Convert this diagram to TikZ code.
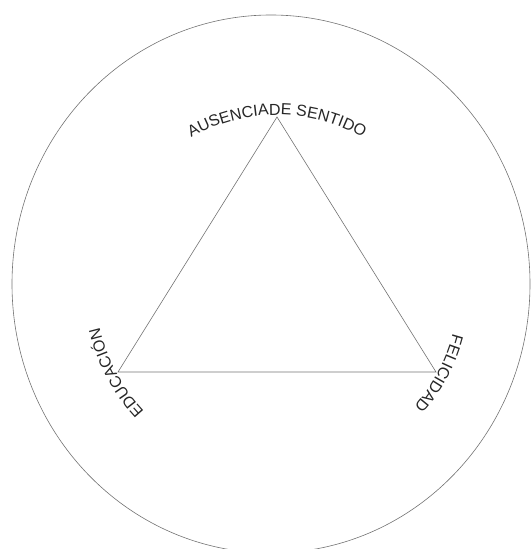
\documentclass[tikz,border=0pt]{standalone}
\usepackage{fontspec}
\setmainfont{Liberation Sans}
\usetikzlibrary{decorations.text}
\newcommand{\lbl}{\fontsize{16}{19}\selectfont\color{black!85}}
\tikzset{
  rim/.style={draw=black!55,line width=0.6pt},
  edge/.style={draw=black!55,line width=0.6pt},
}
\begin{document}
\begin{tikzpicture}[x=1pt,y=1pt]
\useasboundingbox (0,0) rectangle (531,549);
% outer ring
\draw[rim] (271,265) ellipse [x radius=259, y radius=269];
% corners of the triangle
\coordinate (sentido) at (277,432);
\coordinate (educacion) at (118,177);
\coordinate (felicidad) at (436,177);
\coordinate (mid) at (277,262);
\draw[edge] (sentido) -- (felicidad) -- (educacion) -- cycle;
% curved labels
\path[decorate,decoration={text along path,text align=center,
  text={|\lbl|AUSENCIADE SENTIDO}}]
  (mid) ++(135:172) arc[start angle=135,end angle=45,radius=172];
\path[decorate,decoration={text along path,text align=center,
  text={|\lbl|EDUCACIÓN}}]
  (mid) ++(245:182) arc[start angle=245,end angle=171,radius=182];
\path[decorate,decoration={text along path,text align=center,
  text={|\lbl|FELICIDAD}}]
  (mid) ++(5:182) arc[start angle=5,end angle=-61,radius=182];
\end{tikzpicture}
\end{document}
